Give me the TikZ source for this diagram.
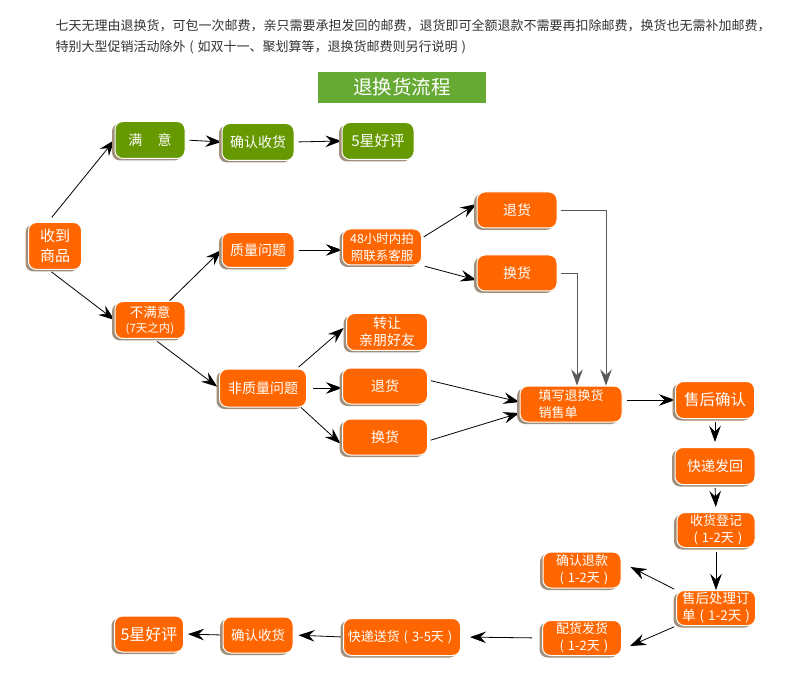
\documentclass[tikz,border=0pt]{standalone}
\usepackage{fontspec}
\setmainfont{Noto Sans CJK SC}
\usetikzlibrary{arrows.meta,shadows}
\pgfdeclarelayer{bg}
\pgfsetlayers{bg,main}
\definecolor{boxorange}{HTML}{FF6600}
\definecolor{boxgreen}{HTML}{669900}
\definecolor{titlegreen}{HTML}{66AA33}
\definecolor{boxshade}{HTML}{A08F7A}
\definecolor{introgray}{HTML}{333333}
\newcommand{\days}[1]{\hspace{0.3em}(\hspace{0.3em}#1\hspace{0.3em})\hspace{0.3em}}
\tikzset{
  box/.style={rectangle, rounded corners=8pt, draw=white, line width=1pt,
    fill=boxorange, text=white, inner sep=0pt, align=center,
    general shadow={fill=boxshade, shadow xshift=-3pt, shadow yshift=-2pt}},
  gbox/.style={box, fill=boxgreen},
  sz/.style 2 args={minimum width=#1pt, minimum height=#2pt},
  fs/.style={font=\fontsize{#1}{17}\selectfont},
  link/.style={-{Stealth[length=16pt,width=11.5pt,inset=5.5pt]}, line width=0.8pt},
  glink/.style={link, draw=black!65},
}

\begin{document}
\begin{tikzpicture}
        \useasboundingbox (0pt,0pt) rectangle (790pt,-676pt);
        \node (t0) [anchor=west, text=introgray, fs=13] at (52pt,-26pt) {七天无理由退换货，可包一次邮费，亲只需要承担发回的邮费，退货即可全额退款不需要再扣除邮费，换货也无需补加邮费，};
        \node (t1) [anchor=west, text=introgray, fs=13] at (52pt,-47pt) {特别大型促销活动除外\days{如双十一、聚划算等，退换货邮费则另行说明}};
        \node (tt) [fill=titlegreen, text=white, sz={168}{31}, fs=19.5] at (402pt,-87.5pt) {退换货流程};
        \node (b0) [box, sz={53}{47}, font=\fontsize{15}{20}\selectfont] at (55pt,-246pt) {收到\\商品};
        \node (b1) [gbox, sz={70}{37}, fs=14] at (150pt,-140pt) {满\hspace{1.1em}意};
        \node (b2) [gbox, sz={72}{37}, fs=14] at (258pt,-142pt) {确认收货};
        \node (b3) [gbox, sz={72}{37}, fs=15] at (378pt,-141pt) {5星好评};
        \node (b4) [box, sz={70}{37}, font=\fontsize{13.5}{15}\selectfont] at (150pt,-320pt) {不满意\\{\fontsize{11.5}{13}\selectfont(7天之内)}};
        \node (b5) [box, sz={72}{35}, fs=14] at (258pt,-250pt) {质量问题};
        \node (b6) [box, sz={79}{36}, fs=12.5] at (382pt,-247pt) {48小时内拍\\照联系客服};
        \node (b7) [box, sz={87}{38}, fs=14] at (263pt,-388pt) {非质量问题};
        \node (b8) [box, sz={81}{37}, fs=14] at (387pt,-332pt) {转让\\亲朋好友};
        \node (b9) [box, sz={85}{36}, fs=14] at (385pt,-386pt) {退货};
        \node (b10) [box, sz={85}{36}, fs=14] at (385pt,-437pt) {换货};
        \node (b11) [box, sz={80}{36}, fs=14] at (517pt,-210pt) {退货};
        \node (b12) [box, sz={80}{36}, fs=14] at (517pt,-273pt) {换货};
        \node (b13) [box, sz={102}{36}, fs=13, align=left] at (571pt,-404pt) {填写退换货\\销售单};
        \node (b14) [box, sz={79}{37}, fs=15.5] at (715pt,-400pt) {售后确认};
        \node (b15) [box, sz={80}{37}, fs=14] at (715pt,-466pt) {快递发回};
        \node (b16) [box, sz={78}{35}, fs=13] at (716pt,-530pt) {收货登记\\\days{1-2天}};
        \node (b17) [box, sz={79}{35}, fs=13.5, align=left] at (716pt,-608pt) {售后处理订\\单\days{1-2天}};
        \node (b18) [box, sz={78}{36}, fs=13] at (582pt,-570pt) {确认退款\\\days{1-2天}};
        \node (b19) [box, sz={79}{35}, fs=13] at (582pt,-638pt) {配货发货\\\days{1-2天}};
        \node (b20) [box, sz={117}{37}, fs=13] at (402pt,-637pt) {快递送货\days{3-5天}};
        \node (b21) [box, sz={70}{36}, fs=13.5] at (258pt,-635pt) {确认收货};
        \node (b22) [box, sz={69}{36}, fs=16] at (149pt,-634pt) {5星好评};
        \begin{pgfonlayer}{bg}
                \draw ([xshift=-7pt]b0.north) edge [link, shorten <=6pt] (b1.west);
                \draw ([xshift=-6pt]b0.south) edge [link, shorten <=3pt] (b4.west);
                \draw (b1.east) edge [link, shorten <=4pt] (b2.west);
                \draw (b2.east) edge [link, shorten <=4pt] (b3.west);
                \draw (b4) edge [link] (b5.west);
                \draw (b5.east) edge [link, shorten <=4pt] (b6.west |- b5.east);
                \draw ([xshift=4pt]b4.south) edge [link, shorten <=4pt, shorten >=2pt] (b7.west);
                \draw ([xshift=-10pt]b7.north east) edge [link, shorten <=2pt, shorten >=3pt] ([yshift=6pt]b8.west);
                \draw (b7.east) edge [link, shorten <=6pt] (b9.west |- b7.east);
                \draw ([xshift=-6pt]b7.south east) edge [link, shorten >=2pt] ([yshift=-8pt]b10.west);
                \draw ([yshift=9pt]b6.east) edge [link, shorten <=2pt] ([yshift=6pt]b11.west);
                \draw (b6.south east) edge [link, shorten <=3pt] ([yshift=-7pt]b12.west);
                \draw [glink, shorten <=3pt] (b11.east) -| ([xshift=35pt]b13.north);
                \draw [glink, shorten <=3pt] (b12.east) -| ([xshift=6pt]b13.north);
                \draw ([yshift=6pt]b9.east) edge [link, shorten <=3pt] ([yshift=2pt]b13.west);
                \draw ([yshift=-4pt]b10.east) edge [link, shorten <=3pt] ([yshift=-9pt]b13.west);
                \draw (b13.east |- b14.west) edge [link, shorten <=4pt] (b14.west);
                \draw (b14.south) edge [link, shorten <=3pt, shorten >=5pt] (b15.north);
                \draw (b15.south) edge [link, shorten <=3pt, shorten >=5pt] (b16.north);
                \draw (b16.south) edge [link, shorten <=4pt] (b17.north);
                \draw (b17.north west) edge [link, shorten <=2pt] ([xshift=9pt,yshift=3pt]b18.east);
                \draw (b17.south west) edge [link, shorten <=2pt] ([xshift=8pt,yshift=-8pt]b19.east);
                \draw (b19.west) edge [link, shorten <=10pt, shorten >=9pt] (b20.east);
                \draw (b20.west) edge [link, shorten >=5pt] (b21.east);
                \draw (b21.west) edge [link, shorten >=4pt] (b22.east);
        \end{pgfonlayer}
\end{tikzpicture}
\end{document}
